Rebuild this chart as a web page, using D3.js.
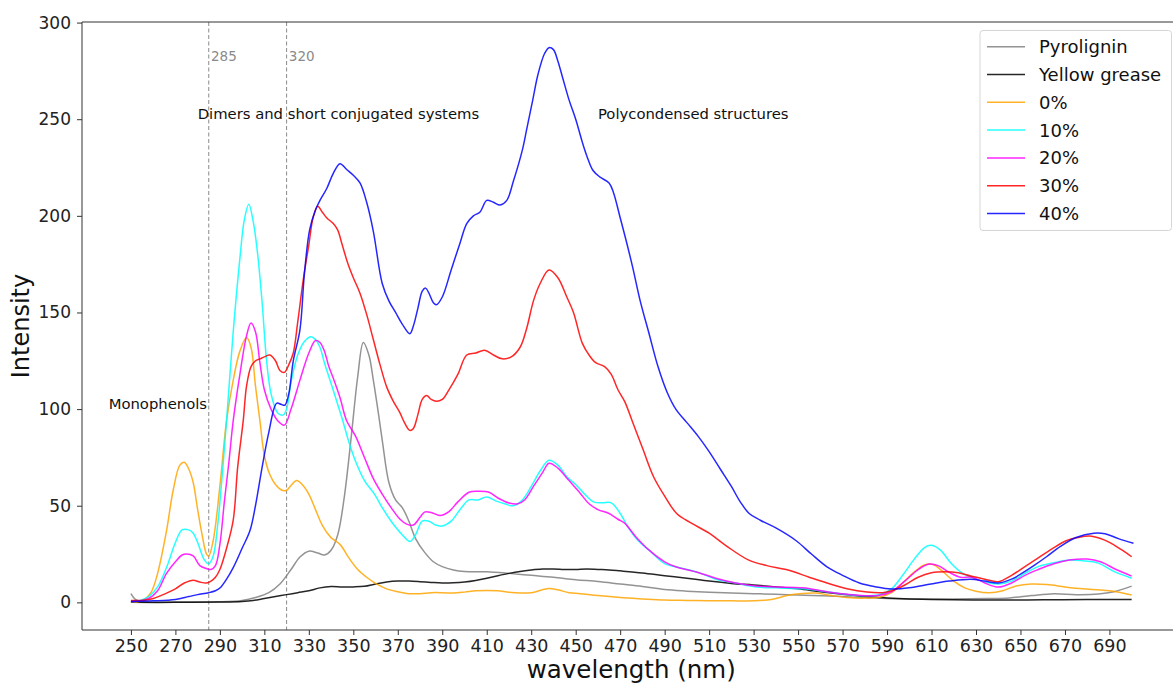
<!DOCTYPE html>
<html>
<head>
<meta charset="utf-8">
<script src="https://cdn.jsdelivr.net/npm/d3@7"></script>
<style>
  html, body { margin: 0; padding: 0; background: #fff; }
  svg { display: block; font-family: "DejaVu Sans", sans-serif; }
</style>
</head>
<body>
<svg id="chart" width="1173" height="684"></svg>
<script>
// Emission spectra: [wavelength (nm), intensity] pairs per sample
const pyrolignin = [[250,4.5],[252,1.5],[255,0.3],[270,0.2],[290,0.3],[300,1],[306,2.5],[312,5],[317,9.5],[322,17],[326,23.5],[330,26.5],[334,25.5],[337,24.5],[340,27],[343,35],[346,55],[349,85],[352,117],[354.5,134.5],[357,128],[359,115],[361,100],[363,84],[366,62],[369,53],[372,49],[375,42],[378,33],[382,26],[386,21],[390,18.5],[395,16.8],[400,16],[410,15.8],[420,15],[430,14],[440,13],[450,11.7],[460,10.8],[470,9.5],[480,8.2],[490,6.6],[500,5.8],[510,5.2],[520,4.8],[530,4.5],[540,4.2],[550,3.8],[560,3.4],[570,3],[580,2.5],[590,2],[600,1.8],[620,1.8],[635,2],[645,2.3],[655,3.5],[665,4.5],[675,4],[685,4.3],[692,5.5],[700,8.4]];

const yellowGrease = [[250,0],[270,0],[290,0.2],[300,0.5],[305,1],[310,2],[315,3],[320,4],[325,5],[330,6],[335,7.5],[340,8.2],[345,8],[350,8],[355,8.3],[360,9.5],[365,10.5],[370,11],[375,11],[380,10.7],[385,10.3],[390,10],[395,10.1],[400,10.5],[405,11.3],[410,12.5],[415,13.8],[420,15],[425,16],[430,16.7],[435,17.2],[440,17.3],[445,17],[450,17],[455,17.2],[460,17],[465,16.8],[470,16.3],[480,15.2],[490,13.8],[500,12.5],[510,11],[520,9.8],[530,9],[540,8],[550,7],[560,5.5],[570,4.2],[580,3],[590,2.3],[600,1.8],[610,1.5],[620,1.3],[630,1.2],[640,1.2],[660,1.3],[680,1.5],[700,1.5]];

const blend0 = [[250,0.5],[253,0.3],[256,1.5],[259,5],[262,15],[266,37],[269,58],[272,71],[274,72.5],[276,69],[278,62],[280,48],[282,35],[284,25],[285,24],[287,32],[290,60],[293,94],[296,115],[299,130],[302,137],[304,132],[306,112],[308,94],[310,76],[312.5,66],[315,61],[318,58],[320,58],[322,60.5],[324.5,63],[327,61],[330,56],[333,48],[336,40],[340,33.5],[344,30],[348,23],[352,17],[356,13],[360,9.8],[365,7],[370,5.5],[375,4.5],[380,4.5],[385,5],[390,5],[395,4.8],[400,5.3],[405,6],[410,6.2],[415,6],[420,5.2],[425,4.8],[430,5],[435,6.5],[438,7.2],[442,6.5],[447,5],[452,4.5],[460,3.5],[470,2.5],[480,1.8],[490,1.2],[500,1],[510,0.8],[520,0.8],[530,0.8],[538,1.5],[545,3.5],[552,4.6],[558,4.8],[565,3.5],[572,2.5],[580,2.2],[587,2.8],[592,5],[597,10],[602,15.5],[607,19.5],[611,19.5],[615,16],[620,11],[625,7.5],[630,5.8],[636,5],[642,6],[648,8.5],[655,9.5],[662,9.2],[670,8],[678,7],[686,6.4],[693,5.5],[700,3.8]];

const blend10 = [[250,0.5],[254,1],[258,3],[262,8],[266,18],[270,31],[273,37.5],[276,37.5],[278,35.8],[280,31],[283,22],[285,20],[287,24],[289,40],[291,65],[293,94],[296,140],[299,178],[301,198],[303,206],[305,197],[307,180],[309,155],[311,125],[313,108],[316,98],[318.5,97],[320,100],[322,114],[325,128],[328,135],[331,137.5],[333,136],[335,132],[337,124],[339.5,115],[342,106],[345,95],[348,83],[351,73],[355,63],[359.5,56],[363,49],[367,42],[372,35],[375.5,31.5],[378,35],[381,42],[384,42],[387,40],[390,39.5],[394,42],[398,48],[402,53],[406,53],[410,54.5],[414,52.5],[418,51],[422,50],[426,53],[430,60],[434,68],[438,73.5],[442,71],[446,65],[450,61],[454,56],[458,52],[462,51.5],[466,51.5],[470,46],[474,38],[478,32],[483,27],[490,20],[495,18.4],[505,15.5],[513,12],[522,10],[531,8],[540,7.5],[552,7],[563,5.5],[574,3.8],[586,3.8],[592,7],[597,14],[602,22],[607,28.5],[610,29.5],[614,27],[619,20],[624,15],[628,13],[634,10.5],[640,9.5],[646,11],[652,15],[658,18.5],[665,20.5],[672,21.9],[678,21.5],[685,20.3],[692,16],[700,12.5]];

const blend20 = [[250,0.5],[254,0.8],[258,2],[262,6],[266,15],[270,21],[273,24.5],[275,25],[278,24],[281,19],[284,17.5],[286,17],[288,19],[290,30],[292,52],[294,72],[296,94],[299,118],[302,138],[304,144.5],[306,140],[308,124],[310,110],[313,100],[316,94],[319,91.7],[322,100],[326,115],[330,129],[333,135.5],[335,134.5],[337,130],[339,122],[341,116],[344,106],[347,94],[351,86],[355,75],[359,64],[363,56],[367,49],[371,43],[374,40.5],[377,40],[380,44],[382,46.7],[385,46.5],[389,45],[393,47],[397,52],[402,57],[406,57.5],[411,57],[415,54],[420,51.4],[424,51],[427,53],[431,60],[435,67],[438,72],[442,69.5],[447,63],[452,56.5],[456,51],[460,48],[465,46],[469,43],[472,41],[477,34],[483,27],[490,21],[495,18.4],[505,15.5],[513,12.5],[522,10],[531,8.5],[540,8],[552,7.5],[563,5.5],[574,4],[586,3.5],[592,5.5],[598,11],[604,17],[609,19.8],[613,19],[618,15.5],[623,13],[628,13],[634,10],[640,7.9],[646,10],[652,14],[658,17],[665,20],[672,21.9],[680,22.4],[686,21],[693,17],[700,13.6]];

const blend30 = [[250,1],[255,1],[260,2],[266,4.8],[270,7],[274,10],[278,11.5],[281,10.5],[284,10],[286,11],[288,13],[290,17],[293,28],[296,42.5],[298,70],[300.5,94],[302,112],[304,122],[306,125],[308,126],[310,127],[312.5,128],[315,125],[317,120],[319,119],[321,123],[323,129],[325,145],[327.5,167],[330,185],[332,199.5],[334,205],[336,202],[338,199],[341,196],[343,192.6],[345,185],[347.5,175.5],[350,168],[353,160],[356,149],[359,136],[362,123],[365,111.5],[368,104],[371,98],[373,93],[375.4,89],[377,90],[379,97],[381,105],[383,107],[385,105],[387.4,104],[390,105],[393,110],[397,118],[401,128],[405,129],[409,130.5],[413,128],[417,126],[421,127],[425,132],[428,142],[431,156],[434,165],[438,172],[442,168],[446,158],[449,150],[453,134],[456,128],[459,124],[463,122],[466,118],[469,110],[472,104],[476,92],[480,80],[485,65],[490,55],[495.4,46],[502,41],[510,35.8],[518,29],[527.6,22],[536,19],[545.5,16.7],[555,13],[563,10],[572,7],[581,5.3],[588,5],[592,6],[598,9],[604,13],[610,15.3],[616,15.8],[622,15.3],[628,13.5],[634,12],[640,10.7],[646,14],[652,18.5],[658,23],[664,27.5],[670.5,31.9],[676,33.6],[681,34.3],[686,33],[690,31],[695,27.5],[700,23.6]];

const blend40 = [[250,0.5],[260,0.8],[270,1.5],[276,3],[280,4],[285,5],[288,6],[290,7.4],[293,12],[296,18],[300,28],[303.5,37],[306,50],[309,70],[312,88],[315.5,103],[317.5,102.5],[319.2,102],[321,108],[323,125],[326,141],[328,170],[330.4,193],[333,203],[335,208],[338,214],[341,222],[344,227],[347,224],[350,221],[353,217],[356,207],[359,192],[363,165],[366,156],[369,150],[372,144],[375.4,139],[377,143],[379,152],[381,161],[382.5,162.6],[384,160],[386,155],[387.4,154],[390,158],[394,172],[398,186],[401,196],[404,200],[407,202],[410,208],[413,207],[416,205.6],[419,208],[422,218],[426,234],[428,245],[430.7,260],[433,273],[436,284],[438,287],[440,286],[442,280],[444,272],[447,260],[450,250],[453,238],[455,231],[457.7,223.6],[461,220],[465,217],[467,212],[470,199],[472.5,188],[475.6,173.5],[479,156],[483,139],[487,122],[491,109],[495,100],[500,93],[505,86],[510,78],[515,69],[520,60],[524,52],[528,46],[533,42.5],[540,38.5],[549,32],[556,25],[563,18.4],[570,14],[577.6,10],[585,8],[592,6.9],[600,7.5],[609.8,9.5],[618,11],[627.6,12],[634,11],[640,10],[646,12],[652,16],[656,19],[661.7,23.6],[668,29],[675,33.6],[683,35.8],[688,35.5],[694,33],[700.8,30.6]];

const seriesNames = ["Pyrolignin", "Yellow grease", "0%", "10%", "20%", "30%", "40%"];
const seriesColors = ["#808080", "#000000", "#ffa500", "#00ffff", "#ff00ff", "#ff0000", "#0000ff"];
const seriesData = [pyrolignin, yellowGrease, blend0, blend10, blend20, blend30, blend40];

const xTicks = d3.range(250, 700, 20);       // 250, 270, ... 690
const yTicks = [0, 50, 100, 150, 200, 250, 300];

// region boundaries and annotations
const boundaries = [285, 320];
const regionLabels = [
  { text: "Monophenols", x: 240, y: 100 },
  { text: "Dimers and short conjugated systems", x: 280, y: 250 },
  { text: "Polycondensed structures", x: 460, y: 250 }
];

const svg = d3.select("#chart");
const margin = { left: 82, top: 22, bottom: 630 };

const x = d3.scaleLinear().domain([228, 722]).range([margin.left, 1180.6]);
const y = d3.scaleLinear().domain([-14.3, 300.3]).range([margin.bottom, margin.top]);

const plot = svg.append("g");
plot.append("clipPath").attr("id", "plotClip")
  .append("rect").attr("x", margin.left).attr("y", margin.top)
  .attr("width", 1180.6 - margin.left).attr("height", margin.bottom - margin.top);

// dashed boundary lines
plot.selectAll("line.boundary").data(boundaries).join("line")
  .attr("class", "boundary")
  .attr("x1", d => x(d)).attr("x2", d => x(d))
  .attr("y1", margin.top).attr("y2", margin.bottom)
  .attr("stroke", "#8a8a8a").attr("stroke-width", 1)
  .attr("stroke-dasharray", "4,2.5");

plot.selectAll("text.boundary").data(boundaries).join("text")
  .attr("class", "boundary")
  .attr("x", d => x(d + 1)).attr("y", y(280))
  .attr("fill", "#8a8a8a").attr("font-size", "13.5px")
  .text(d => d);

// spectra
const line = d3.line()
  .x(d => x(d[0])).y(d => y(d[1]))
  .curve(d3.curveCatmullRom.alpha(0.5));

plot.append("g").attr("clip-path", "url(#plotClip)")
  .selectAll("path").data(seriesData).join("path")
  .attr("d", line)
  .attr("fill", "none")
  .attr("stroke", (d, i) => seriesColors[i])
  .attr("stroke-width", 1.5)
  .attr("stroke-opacity", 0.85)
  .attr("stroke-linejoin", "round");

// region labels
plot.selectAll("text.region").data(regionLabels).join("text")
  .attr("class", "region")
  .attr("x", d => x(d.x)).attr("y", d => y(d.y))
  .attr("font-size", "14.8px").attr("fill", "#111")
  .text(d => d.text);

// axes
const xAxis = d3.axisBottom(x).tickValues(xTicks).tickSize(5).tickPadding(5).tickFormat(d3.format("d"));
const yAxis = d3.axisLeft(y).tickValues(yTicks).tickSize(5).tickPadding(6).tickFormat(d3.format("d"));

const gx = svg.append("g").attr("transform", `translate(0,${margin.bottom})`).call(xAxis);
const gy = svg.append("g").attr("transform", `translate(${margin.left},0)`).call(yAxis);
[gx, gy].forEach(g => {
  g.select(".domain").remove();
  g.selectAll(".tick line").attr("stroke", "#333").attr("stroke-width", 1);
  g.selectAll(".tick text").attr("fill", "#222")
    .attr("font-family", "DejaVu Sans, sans-serif");
});
gx.selectAll(".tick text").attr("font-size", "17.5px");
gy.selectAll(".tick text").attr("font-size", "17px");

// spines (right spine falls outside the frame)
svg.append("path")
  .attr("d", `M${margin.left},${margin.bottom}H1180.6V${margin.top}H${margin.left}Z`)
  .attr("fill", "none").attr("stroke", "#333").attr("stroke-width", 1);

// axis titles
svg.append("text")
  .attr("x", x(475)).attr("y", 678)
  .attr("text-anchor", "middle").attr("font-size", "24.5px").attr("fill", "#111")
  .text("wavelength (nm)");
svg.append("text")
  .attr("transform", `translate(29,${(margin.top + margin.bottom) / 2}) rotate(-90)`)
  .attr("text-anchor", "middle").attr("font-size", "24px").attr("fill", "#111")
  .text("Intensity");

// legend
const legend = svg.append("g").attr("transform", "translate(980,30.5)");
legend.append("rect")
  .attr("width", 191.5).attr("height", 200).attr("rx", 3)
  .attr("fill", "#fff").attr("fill-opacity", 0.85)
  .attr("stroke", "#d5d5d5").attr("stroke-width", 1);
const rows = legend.selectAll("g.row").data(seriesNames).join("g")
  .attr("class", "row")
  .attr("transform", (d, i) => `translate(0,${16.2 + i * 27.8})`);
rows.append("line")
  .attr("x1", 7).attr("x2", 45)
  .attr("stroke", (d, i) => seriesColors[i]).attr("stroke-width", 1.5).attr("stroke-opacity", 0.85);
rows.append("text")
  .attr("x", 59).attr("y", 6.5)
  .attr("font-size", "18px").attr("fill", "#111")
  .text(d => d);
</script>
</body>
</html>
